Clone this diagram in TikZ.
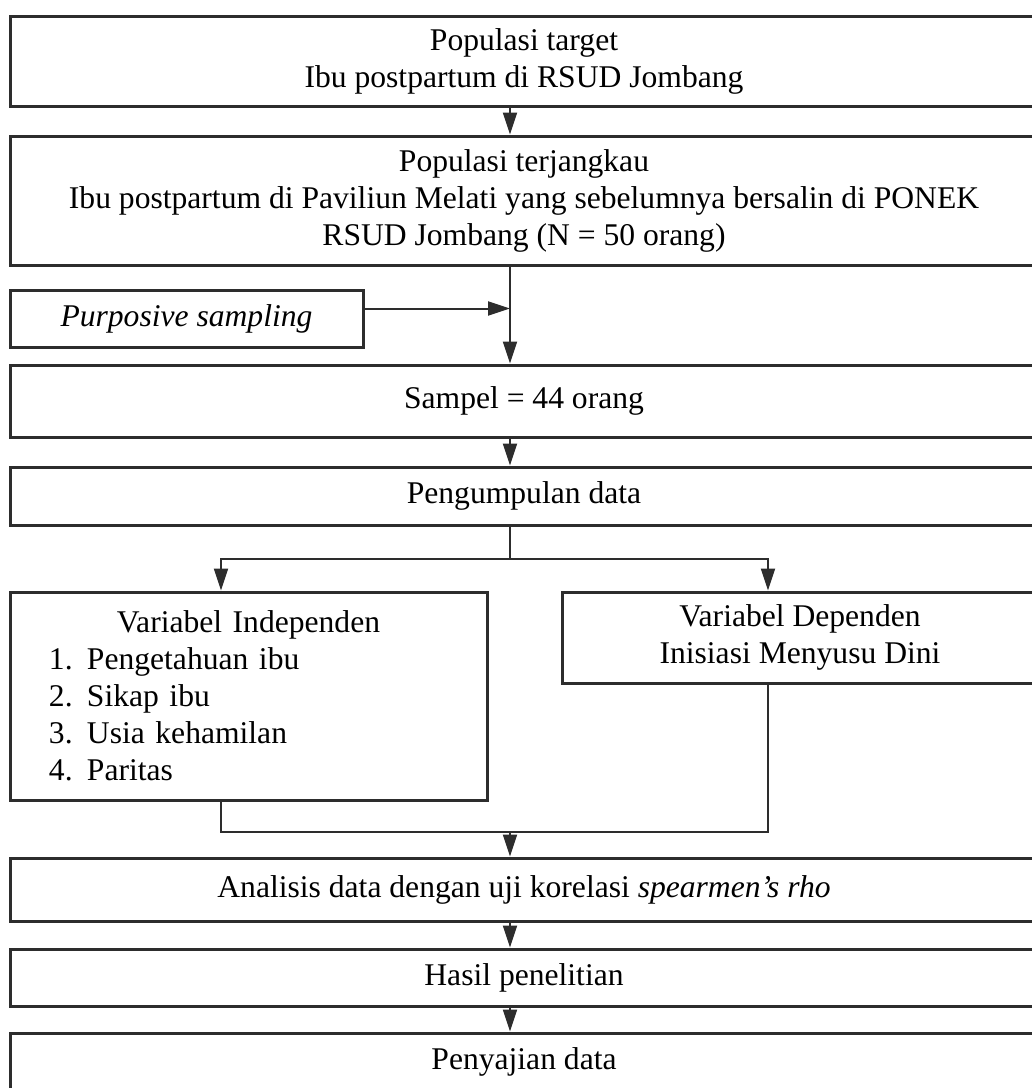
\documentclass[tikz,border=0pt]{standalone}
\usepackage{fontspec}
\setmainfont{Liberation Serif}
\usetikzlibrary{arrows.meta}
\definecolor{lineColor}{RGB}{45,45,45}
\tikzstyle{flowBox} = [draw=lineColor, line width=1.5pt, inner sep=0pt, align=center]
\tikzstyle{flowLine} = [draw=lineColor, line width=1pt]
\tikzstyle{flowArrow} = [flowLine, -{Triangle[length=11pt, width=7pt]}]
\newcommand{\listItem}[2]{\hspace*{19.5pt}\makebox[19pt][l]{#1}#2}

\begin{document}
\begin{tikzpicture}[x=0.5pt, y=-0.5pt, font=\fontsize{15.8}{18.5}\selectfont]
  \useasboundingbox (0,0) rectangle (1032,1088);
  \clip (0,0) rectangle (1032,1088);
  \coordinate (mid) at (510,0);
  \coordinate (leftCol) at (221,0);
  \coordinate (rightCol) at (768,0);
  \coordinate (split) at (510,559);
  \coordinate (merge) at (510,832);

  \node [flowBox, minimum width=514pt, minimum height=45pt] (target) at (524,61)
    {Populasi target\\Ibu postpartum di RSUD Jombang};
  \node [flowBox, minimum width=514pt, minimum height=64.5pt] (terjangkau) at (524,200.5)
    {Populasi terjangkau\\Ibu postpartum di Paviliun Melati yang sebelumnya bersalin di PONEK\\RSUD Jombang (N = 50 orang)};
  \node [flowBox, minimum width=176.5pt, minimum height=28.5pt] (purposive) at (186.5,318.5)
    {\textit{Purposive sampling}};
  \node [flowBox, minimum width=514pt, minimum height=36pt] (sampel) at (524,401)
    {Sampel = 44 orang};
  \node [flowBox, minimum width=514pt, minimum height=29pt] (kumpul) at (524,496)
    {Pengumpulan data};
  \node [flowBox, minimum width=238.5pt, minimum height=104pt, text width=238.5pt, align=left] (independen) at (248.5,696)
    {\parindent=0pt{\centering Variabel Independen\par}
     \listItem{1.}{Pengetahuan ibu}\par
     \listItem{2.}{Sikap ibu}\par
     \listItem{3.}{Usia kehamilan}\par
     \listItem{4.}{Paritas}};
  \node [flowBox, minimum width=238pt, minimum height=45.5pt] (dependen) at (800,637.5)
    {Variabel Dependen\\Inisiasi Menyusu Dini};
  \node [flowBox, minimum width=514pt, minimum height=31.5pt] (analisis) at (524,889.5)
    {Analisis data dengan uji korelasi \textit{spearmen’s rho}};
  \node [flowBox, minimum width=514pt, minimum height=28.5pt] (hasil) at (524,977.5)
    {Hasil penelitian};
  \node [flowBox, minimum width=514pt, minimum height=29pt] (sajian) at (524,1062)
    {Penyajian data};

  \draw [flowArrow] (target.south -| mid) -- (terjangkau.north -| mid);
  \draw [flowArrow] (terjangkau.south -| mid) -- (sampel.north -| mid);
  \draw [flowArrow] ([yshift=5pt]purposive.east) -- ([yshift=5pt]purposive.east -| mid);
  \draw [flowArrow] (sampel.south -| mid) -- (kumpul.north -| mid);
  \draw [flowLine] (kumpul.south -| mid) -- (split);
  \draw [flowArrow] (split) -| (independen.north -| leftCol);
  \draw [flowArrow] (split) -| (dependen.north -| rightCol);
  \draw [flowLine] (independen.south -| leftCol) |- (merge);
  \draw [flowLine] (dependen.south -| rightCol) |- (merge);
  \draw [flowArrow] (merge) -- (analisis.north -| mid);
  \draw [flowArrow] (analisis.south -| mid) -- (hasil.north -| mid);
  \draw [flowArrow] (hasil.south -| mid) -- (sajian.north -| mid);
\end{tikzpicture}
\end{document}
